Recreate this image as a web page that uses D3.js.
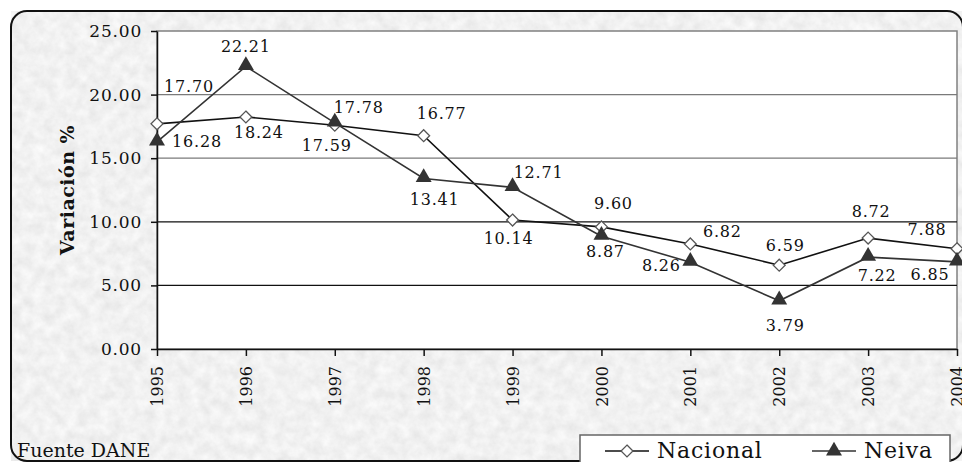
<!DOCTYPE html>
<html>
<head>
<meta charset="utf-8">
<script src="https://cdn.jsdelivr.net/npm/d3@7"></script>
<style>
  body { margin: 0; background: #fff; }
  svg { display: block; font-family: 'DejaVu Serif', serif; }
</style>
</head>
<body>
<svg id="chart" width="962" height="462"></svg>
<script>
// data
var years = ['1995', '1996', '1997', '1998', '1999', '2000', '2001', '2002', '2003', '2004']
var nacional = [17.70, 18.24, 17.59, 16.77, 10.14, 9.60, 8.26, 6.59, 8.72, 7.88]
var neiva = [16.28, 22.21, 17.78, 13.41, 12.71, 8.87, 6.82, 3.79, 7.22, 6.85]
var yTicks = [0, 5, 10, 15, 20, 25]
var seriesNames = ['Nacional', 'Neiva']

// where each value label sits relative to its point
var nacionalLabelOffsets = [[32, -37], [13, 16], [-8, 20], [18, -22], [-4, 18], [12, -23], [-29, 22], [6, -20], [3, -27], [-30, -19]]
var neivaLabelOffsets = [[40, 0], [0, -20], [24, -15], [11, 21], [26, -15], [4, 15], [32, -31], [6, 25], [9, 18], [-27, 13]]

var svg = d3.select('#chart')
var defs = svg.append('defs')

// light marbled paper texture
var filter = defs.append('filter').attr('id', 'paper')
  .attr('x', 0).attr('y', 0).attr('width', '100%').attr('height', '100%')
filter.append('feTurbulence')
  .attr('type', 'fractalNoise')
  .attr('baseFrequency', 0.09)
  .attr('numOctaves', 4)
  .attr('seed', 7)
  .attr('result', 'noise')
filter.append('feColorMatrix')
  .attr('in', 'noise')
  .attr('type', 'matrix')
  .attr('values', '0.22 0 0 0 0.77  0.22 0 0 0 0.77  0.22 0 0 0 0.77  0 0 0 0 1')

var margin = { left: 157, right: 957, top: 31, bottom: 349 }

svg.append('rect')
  .attr('x', 11).attr('y', 11)
  .attr('width', 952).attr('height', 450)
  .attr('rx', 16)
  .attr('filter', 'url(#paper)')
svg.append('rect')
  .attr('x', 11).attr('y', 11)
  .attr('width', 952).attr('height', 450)
  .attr('rx', 16)
  .attr('fill', 'none')
  .attr('stroke', '#111')
  .attr('stroke-width', 2)

var x = d3.scalePoint().domain(years).range([margin.left, margin.right])
var y = d3.scaleLinear().domain([0, 25]).range([margin.bottom, margin.top])

// plot area
svg.append('rect')
  .attr('x', margin.left).attr('y', margin.top)
  .attr('width', margin.right - margin.left)
  .attr('height', margin.bottom - margin.top)
  .attr('fill', '#fff')
  .attr('stroke', '#808080')
  .attr('stroke-width', 1.5)

svg.append('g')
  .selectAll('line')
  .data(yTicks.filter((d) => d > 0 && d < 25))
  .join('line')
  .attr('x1', margin.left).attr('x2', margin.right)
  .attr('y1', (d) => y(d)).attr('y2', (d) => y(d))
  .attr('stroke', (d) => d <= 10 ? '#111' : '#7a7a7a')
  .attr('stroke-width', 1.2)

var yAxis = svg.append('g')
  .attr('transform', 'translate(' + margin.left + ',0)')
  .call(d3.axisLeft(y).tickValues(yTicks).tickFormat(d3.format('.2f')).tickSize(6).tickSizeOuter(0))
yAxis.select('.domain').attr('stroke', '#111').attr('stroke-width', 1.5)
yAxis.selectAll('.tick line').attr('stroke', '#111').attr('stroke-width', 1.5)
yAxis.selectAll('text')
  .attr('font-family', 'DejaVu Serif')
  .attr('font-size', 17)
  .attr('letter-spacing', 0.8)
  .attr('fill', '#111')
  .attr('x', -15)

var xAxis = svg.append('g')
  .attr('transform', 'translate(0,' + margin.bottom + ')')
  .call(d3.axisBottom(x).tickSize(7).tickSizeOuter(0))
xAxis.select('.domain').attr('stroke', '#111').attr('stroke-width', 1.5)
xAxis.selectAll('.tick line').attr('stroke', '#111').attr('stroke-width', 1.5)
xAxis.selectAll('text')
  .attr('font-family', 'DejaVu Serif')
  .attr('font-size', 16)
  .attr('fill', '#111')
  .attr('transform', 'rotate(-90)')
  .attr('text-anchor', 'end')
  .attr('dy', '0.35em')
  .attr('x', -17)
  .attr('y', 0)

svg.append('text')
  .attr('transform', 'translate(67,190) rotate(-90)')
  .attr('text-anchor', 'middle')
  .attr('dominant-baseline', 'central')
  .attr('font-size', 19)
  .attr('font-weight', 'bold')
  .attr('letter-spacing', 0.5)
  .attr('fill', '#111')
  .text('Variación %')

var line = d3.line()
  .x((d, i) => x(years[i]))
  .y((d) => y(d))

svg.append('path')
  .datum(nacional)
  .attr('d', line)
  .attr('fill', 'none')
  .attr('stroke', '#111')
  .attr('stroke-width', 1.6)

svg.append('path')
  .datum(neiva)
  .attr('d', line)
  .attr('fill', 'none')
  .attr('stroke', '#333')
  .attr('stroke-width', 1.6)

var diamond = d3.symbol().type(d3.symbolDiamond2).size(90)
var triangle = d3.symbol().type(d3.symbolTriangle).size(110)

svg.append('g')
  .selectAll('path')
  .data(nacional)
  .join('path')
  .attr('transform', (d, i) => 'translate(' + x(years[i]) + ',' + y(d) + ')')
  .attr('d', diamond)
  .attr('fill', '#fff')
  .attr('stroke', '#555')
  .attr('stroke-width', 1.3)

svg.append('g')
  .selectAll('path')
  .data(neiva)
  .join('path')
  .attr('transform', (d, i) => 'translate(' + x(years[i]) + ',' + (y(d) - 1) + ')')
  .attr('d', triangle)
  .attr('fill', '#333')

var drawLabels = function (values, offsets) {
  svg.append('g')
    .selectAll('text')
    .data(values)
    .join('text')
    .attr('x', (d, i) => x(years[i]) + offsets[i][0])
    .attr('y', (d, i) => y(d) + offsets[i][1])
    .attr('text-anchor', 'middle')
    .attr('dominant-baseline', 'central')
    .attr('font-size', 16)
    .attr('letter-spacing', 0.8)
    .attr('fill', '#111')
    .text((d) => d.toFixed(2))
}
drawLabels(nacional, nacionalLabelOffsets)
drawLabels(neiva, neivaLabelOffsets)

svg.append('text')
  .attr('x', 17).attr('y', 457)
  .attr('font-size', 19)
  .attr('fill', '#111')
  .text('Fuente DANE')

// legend
var legend = svg.append('g')
legend.append('rect')
  .attr('x', 580).attr('y', 435)
  .attr('width', 370).attr('height', 40)
  .attr('fill', '#fff')
  .attr('stroke', '#666')
  .attr('stroke-width', 1.5)

var legendItems = legend.selectAll('g.item')
  .data(seriesNames)
  .join('g')
  .attr('class', 'item')
  .attr('transform', (d, i) => 'translate(' + [605, 812][i] + ',451)')
legendItems.append('line')
  .attr('x1', 0).attr('x2', 44)
  .attr('stroke', (d, i) => i === 0 ? '#111' : '#333')
  .attr('stroke-width', 1.6)
legendItems.append('path')
  .attr('transform', 'translate(22,0)')
  .attr('d', (d, i) => i === 0 ? diamond() : triangle())
  .attr('fill', (d, i) => i === 0 ? '#fff' : '#333')
  .attr('stroke', (d, i) => i === 0 ? '#555' : 'none')
  .attr('stroke-width', 1.3)
legendItems.append('text')
  .attr('x', 52).attr('y', 7)
  .attr('font-size', 22)
  .attr('letter-spacing', 0.8)
  .attr('fill', '#111')
  .text((d) => d)
</script>
</body>
</html>
